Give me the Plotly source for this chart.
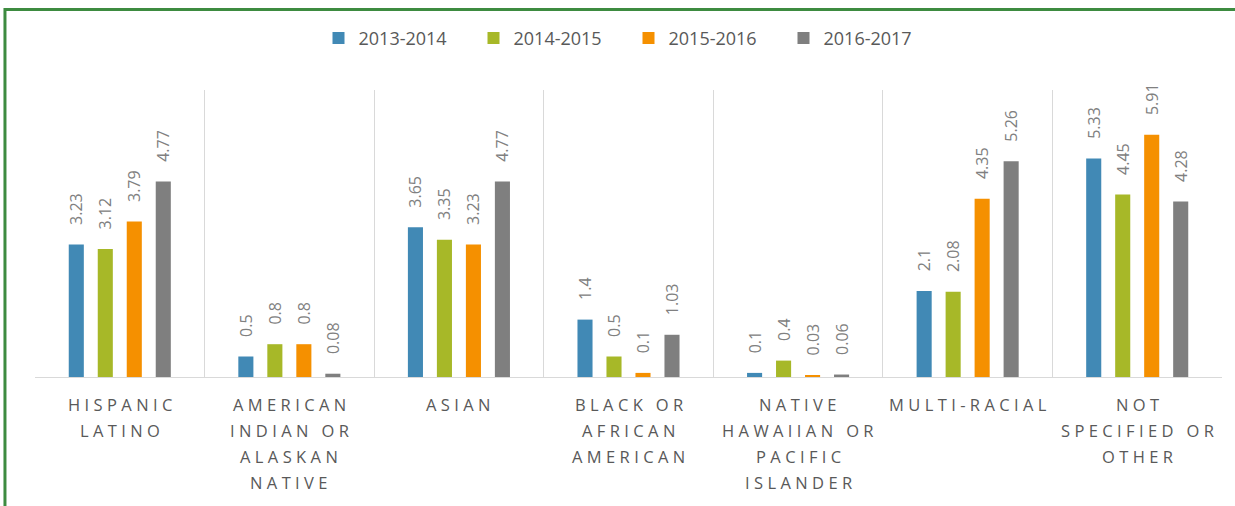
import plotly.graph_objects as go

categories = ["HISPANIC LATINO", "AMERICAN INDIAN OR ALASKAN NATIVE", "ASIAN",
              "BLACK OR AFRICAN AMERICAN", "NATIVE HAWAIIAN OR PACIFIC ISLANDER",
              "MULTI-RACIAL", "NOT SPECIFIED OR OTHER"]
label_lines = [["HISPANIC", "LATINO"],
               ["AMERICAN", "INDIAN OR", "ALASKAN", "NATIVE"],
               ["ASIAN"],
               ["BLACK OR", "AFRICAN", "AMERICAN"],
               ["NATIVE", "HAWAIIAN OR", "PACIFIC", "ISLANDER"],
               ["MULTI-RACIAL"],
               ["NOT", "SPECIFIED OR", "OTHER"]]
series_names = ["2013-2014", "2014-2015", "2015-2016", "2016-2017"]
v2013 = [3.23, 0.5, 3.65, 1.4, 0.1, 2.1, 5.33]
v2014 = [3.12, 0.8, 3.35, 0.5, 0.4, 2.08, 4.45]
v2015 = [3.79, 0.8, 3.23, 0.1, 0.03, 4.35, 5.91]
v2016 = [4.77, 0.08, 4.77, 1.03, 0.06, 5.26, 4.28]
series_values = [v2013, v2014, v2015, v2016]
colors = ["#4189B5", "#A7B828", "#F59000", "#7F7F7F"]

FONT = "Open Sans"
NB = "\u00a0"
GAP = "\u2009\u200a"

fig = go.Figure()
for name, vals, col in zip(series_names, series_values, colors):
    fig.add_trace(go.Bar(
        x=categories, y=vals, name=name, marker=dict(color=col, line=dict(width=0)),
        text=[NB * 4 + str(v) for v in vals], textposition="outside", textangle=-90,
        constraintext="none", cliponaxis=False,
        textfont=dict(family=FONT, size=16, color="#808080"),
    ))

def spaced(s):
    out = []
    for i, ch in enumerate(s):
        out.append(NB if ch == " " else ch)
        if i < len(s) - 1:
            out.append(GAP)
    return "".join(out)

annotations = []
for cat, lines in zip(categories, label_lines):
    for j, ln in enumerate(lines):
        annotations.append(dict(
            x=cat, y=0, xref="x", yref="y", text=spaced(ln), showarrow=False,
            yanchor="middle", xanchor="center", yshift=-(27 + 26 * j),
            font=dict(family=FONT, size=16.5, color="#595959"),
        ))

fig.update_layout(
    width=1235, height=506,
    margin=dict(l=35, r=13, t=90, b=129),
    paper_bgcolor="white", plot_bgcolor="white",
    barmode="group", bargap=0.316, bargroupgap=0.48,
    font=dict(family=FONT, color="#595959"),
    legend=dict(orientation="h", x=0.5, xanchor="center", y=1.18, yanchor="middle",
                font=dict(family=FONT, size=18, color="#595959"),
                entrywidth=110, entrywidthmode="pixels", itemclick=False),
    xaxis=dict(type="category", tickson="boundaries", showgrid=True, gridcolor="#D9D9D9",
               gridwidth=1, showticklabels=False, ticks="", showline=True,
               linecolor="#D9D9D9", linewidth=1, zeroline=False, fixedrange=True),
    yaxis=dict(range=[0, 7], showgrid=False, showticklabels=False, zeroline=False,
               ticks="", showline=False, fixedrange=True),
    annotations=annotations,
    shapes=[dict(type="rect", xref="paper", yref="paper",
                 x0=-0.0253, x1=1.0194, y0=-0.498, y1=1.2805,
                 line=dict(color="#3D8B40", width=3), fillcolor="rgba(0,0,0,0)",
                 layer="above")],
)

fig.write_html("out.html", config={"displayModeBar": False},
               post_script="document.body.style.margin='0';document.body.style.overflow='hidden';")
